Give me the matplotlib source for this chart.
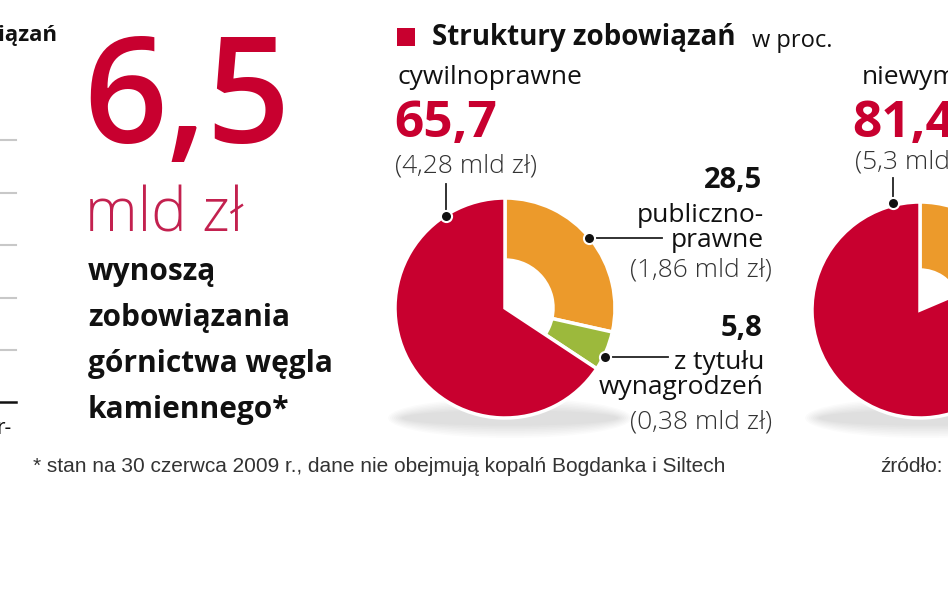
import matplotlib
matplotlib.use("Agg")
import matplotlib.pyplot as plt
from matplotlib.patches import Ellipse, Rectangle

W, H = 948, 593

# data
mid_labels = ["publiczno-\nprawne", "z tytułu\nwynagrodzeń", "cywilnoprawne"]
mid_values = [28.5, 5.8, 65.7]
mid_amounts = ["1,86", "0,38", "4,28"]
right_values = [18.6, 81.4]
right_amounts = ["5,3"]
total = "6,5"

RED = "#c8002f"
ORANGE = "#ec9a2b"
GREEN = "#9cb93c"
LIGHTRED = "#c3214f"

FONT = ["Open Sans", "DejaVu Sans"]
NARROW = ["Liberation Sans Narrow", "Liberation Sans", "DejaVu Sans"]


def Y(y):
    # pixel row from top -> data y
    return H - y


fig = plt.figure(figsize=(W / 100, H / 100), dpi=100)
ax = fig.add_axes([0, 0, 1, 1])
ax.set_xlim(0, W)
ax.set_ylim(0, H)
ax.axis("off")


def draw_pie(values, colors, cx, cy, r, hole):
    # soft shadow under the pie
    for k in range(8):
        ax.add_patch(Ellipse((cx + 5, Y(cy + r)), 2 * r + 24 - 4 * k, 40 - 3.5 * k,
                             facecolor="#000000", alpha=0.016, lw=0, zorder=1))
    wedges, _ = ax.pie(values, colors=colors, startangle=90, counterclock=False,
                       center=(cx, Y(cy)), radius=r, frame=True,
                       wedgeprops=dict(width=r - hole, edgecolor="white", linewidth=2.5))
    # main slice drawn full to centre
    wedges[-1].set_width(None)
    for w in wedges:
        w.set_zorder(2)
    return wedges


def leader(x0, y0, x1, y1):
    ax.plot([x0, x1], [Y(y0), Y(y1)], color="#222222", lw=1.3, zorder=4)
    ax.plot([x0], [Y(y0)], marker="o", ms=8, color="#111111", mec="white", mew=1.5, zorder=5)


# ---- left fragment
ax.text(57, Y(36), "zobowiązań", ha="right", va="center", fontsize=16, fontweight="bold",
        family=FONT, color="#111111")
for gy in [140, 193, 245, 298, 350]:
    ax.plot([0, 16], [Y(gy), Y(gy)], color="#c8c8c8", lw=1.5)
ax.plot([0, 16], [Y(402), Y(402)], color="#111111", lw=1.8)
ax.text(12, Y(428), "r-", ha="right", va="center", fontsize=15, family=FONT, color="#111111")

ax.text(83, Y(105), total, ha="left", va="center", fontsize=106, fontweight=600,
        family=FONT, color=RED)
ax.text(85, Y(216), "mld zł", ha="left", va="center", fontsize=43, fontweight=300,
        family=FONT, color=LIGHTRED)
for i, line in enumerate(["wynoszą", "zobowiązania", "górnictwa węgla", "kamiennego*"]):
    ax.text(88, Y(272 + i * 46), line, ha="left", va="center", fontsize=21.5,
            fontweight="bold", family=FONT, color="#111111")

ax.text(33, Y(466), "* stan na 30 czerwca 2009 r., dane nie obejmują kopalń Bogdanka i Siltech",
        ha="left", va="center", fontsize=15, family=NARROW, color="#333333")
ax.text(880, Y(466), "źródło:", ha="left", va="center", fontsize=15, family=NARROW, color="#333333")

# ---- middle pie
ax.add_patch(Rectangle((397, Y(46)), 18, 18, facecolor=RED, lw=0))
ax.text(432, Y(38), "Struktury zobowiązań", ha="left", va="center", fontsize=20,
        fontweight="bold", family=FONT, color="#111111")
ax.text(752, Y(41), "w proc.", ha="left", va="center", fontsize=17, family=FONT, color="#111111")

draw_pie(mid_values, [ORANGE, GREEN, RED], 505, 308, 110, 48)

ax.text(398, Y(77), mid_labels[2], ha="left", va="center", fontsize=19, family=FONT, color="#111111")
ax.text(394, Y(124), "65,7", ha="left", va="center", fontsize=37, fontweight="bold",
        family=FONT, color=RED)
ax.text(395, Y(166), "(%s mld zł)" % mid_amounts[2], ha="left", va="center", fontsize=19,
        fontweight=300, family=FONT, color="#333333")
ax.plot([446, 446], [Y(184), Y(214)], color="#222222", lw=1.3, zorder=4)
leader(446, 216, 446, 216)

ax.text(762, Y(180), "28,5", ha="right", va="center", fontsize=21, fontweight="bold",
        family=FONT, color="#111111")
ax.text(764, Y(228), mid_labels[0], ha="right", va="center", fontsize=19, family=FONT,
        color="#111111", linespacing=1.05)
ax.text(772, Y(270), "(%s mld zł)" % mid_amounts[0], ha="right", va="center", fontsize=19,
        fontweight=300, family=FONT, color="#333333")
leader(589, 238, 662, 238)

ax.text(762, Y(328), "5,8", ha="right", va="center", fontsize=21, fontweight="bold",
        family=FONT, color="#111111")
ax.text(764, Y(375), mid_labels[1], ha="right", va="center", fontsize=19, family=FONT,
        color="#111111", linespacing=1.05)
ax.text(772, Y(422), "(%s mld zł)" % mid_amounts[1], ha="right", va="center", fontsize=19,
        fontweight=300, family=FONT, color="#333333")
leader(605, 357, 668, 357)

# ---- right pie (cut off)
draw_pie(right_values, [ORANGE, RED], 920, 310, 108, 40)
ax.text(862, Y(77), "niewymagalne", ha="left", va="center", fontsize=19, family=FONT, color="#111111")
ax.text(852, Y(124), "81,4", ha="left", va="center", fontsize=37, fontweight="bold",
        family=FONT, color=RED)
ax.text(855, Y(162), "(%s mld zł)" % right_amounts[0], ha="left", va="center", fontsize=19,
        fontweight=300, family=FONT, color="#333333")
ax.plot([893, 893], [Y(178), Y(200)], color="#222222", lw=1.3, zorder=4)
leader(893, 203, 893, 203)

ax.set_xlim(0, W)
ax.set_ylim(0, H)
ax.set_aspect("auto")
ax.axis("off")

fig.savefig("out.png", dpi=100, facecolor="white")
